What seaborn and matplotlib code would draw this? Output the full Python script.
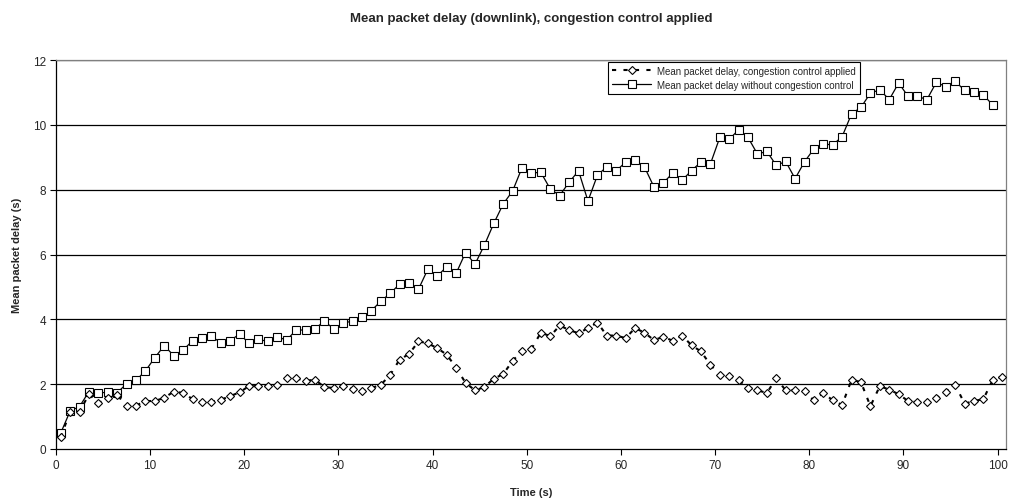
import numpy as np
import pandas as pd
import matplotlib
matplotlib.use("Agg")
import matplotlib.pyplot as plt
import seaborn as sns

title = "Mean packet delay (downlink), congestion control applied"
xlabel = "Time (s)"
ylabel = "Mean packet delay (s)"
label_cc = "Mean packet delay, congestion control applied"
label_nocc = "Mean packet delay without congestion control"

time_nocc = np.arange(100) + 0.5
time_cc = np.arange(101) + 0.5

delay_nocc = [
    0.49, 1.17, 1.31, 1.77, 1.73, 1.75, 1.73, 2.02, 2.12, 2.41, 2.82, 3.19, 2.88, 3.05, 3.34, 3.42, 3.48, 3.28, 3.34, 3.55, 3.26, 3.38, 3.32, 3.46, 3.36,
    3.67, 3.67, 3.71, 3.94, 3.71, 3.88, 3.95, 4.06, 4.27, 4.56, 4.80, 5.09, 5.11, 4.93, 5.55, 5.34, 5.62, 5.42, 6.06, 5.70, 6.29, 6.96, 7.56, 7.96, 8.68,
    8.52, 8.53, 8.02, 7.82, 8.23, 8.58, 7.65, 8.44, 8.71, 8.58, 8.85, 8.91, 8.70, 8.09, 8.21, 8.51, 8.29, 8.59, 8.85, 8.79, 9.61, 9.55, 9.85, 9.61, 9.10,
    9.18, 8.75, 8.87, 8.34, 8.86, 9.26, 9.41, 9.38, 9.64, 10.34, 10.54, 10.98, 11.08, 10.78, 11.29, 10.88, 10.88, 10.78, 11.31, 11.18, 11.35, 11.06, 11.02, 10.92, 10.61,
]

delay_cc = [
    0.36, 1.15, 1.15, 1.69, 1.42, 1.56, 1.67, 1.32, 1.34, 1.48, 1.48, 1.58, 1.77, 1.73, 1.54, 1.44, 1.46, 1.52, 1.63, 1.75, 1.94, 1.94, 1.94, 1.98, 2.20,
    2.18, 2.10, 2.14, 1.91, 1.88, 1.94, 1.85, 1.79, 1.88, 1.98, 2.29, 2.76, 2.93, 3.32, 3.26, 3.11, 2.91, 2.51, 2.04, 1.81, 1.91, 2.17, 2.31, 2.72, 3.03,
    3.09, 3.59, 3.48, 3.81, 3.67, 3.57, 3.73, 3.90, 3.50, 3.50, 3.42, 3.73, 3.59, 3.36, 3.46, 3.34, 3.50, 3.20, 3.01, 2.60, 2.27, 2.25, 2.12, 1.89, 1.81,
    1.73, 2.18, 1.81, 1.81, 1.79, 1.50, 1.73, 1.50, 1.36, 2.14, 2.06, 1.32, 1.94, 1.83, 1.69, 1.48, 1.44, 1.46, 1.56, 1.77, 1.98, 1.40, 1.48, 1.54, 2.14, 2.23,
]

x_ticks = [0, 10, 20, 30, 40, 50, 60, 70, 80, 90, 100]
y_ticks = [0, 2, 4, 6, 8, 10, 12]

sns.set_theme(style="white")
plt.rcParams["font.family"] = ["Liberation Sans", "DejaVu Sans"]

df_cc = pd.DataFrame({"time": time_cc, "delay": delay_cc})
df_nocc = pd.DataFrame({"time": time_nocc, "delay": delay_nocc})

fig = plt.figure(figsize=(10.13, 5.02), dpi=100)
ax = fig.add_axes([56 / 1013, 1 - 450 / 502, 950 / 1013, 389 / 502])

for y in y_ticks[1:]:
    ax.axhline(y, color="black", linewidth=0.9, zorder=0)

sns.lineplot(data=df_cc, x="time", y="delay", ax=ax, color="black",
             linewidth=1.5, linestyle=(0, (2.0, 3.5)), marker="D",
             markersize=4.2, markerfacecolor="white", markeredgecolor="black",
             markeredgewidth=0.8, label=label_cc, zorder=3)
sns.lineplot(data=df_nocc, x="time", y="delay", ax=ax, color="black",
             linewidth=0.9, marker="s", markersize=5.5,
             markerfacecolor="white", markeredgecolor="black",
             markeredgewidth=0.8, label=label_nocc, zorder=2)

ax.set_xlim(0, 100.9)
ax.set_ylim(0, 12)
ax.set_xticks(x_ticks)
ax.set_yticks(y_ticks)
ax.tick_params(axis="both", direction="out", length=4, width=0.8,
               labelsize=8.5, color="black", pad=3, bottom=True, left=True)

for side in ["left", "bottom"]:
    ax.spines[side].set_color("black")
    ax.spines[side].set_linewidth(0.9)
for side in ["top", "right"]:
    ax.spines[side].set_color("#808080")
    ax.spines[side].set_linewidth(0.9)

ax.set_title(title, fontsize=9.5, fontweight="bold", pad=28)
ax.set_xlabel(xlabel, fontsize=8, fontweight="bold", labelpad=12)
ax.set_ylabel(ylabel, fontsize=8, fontweight="bold", labelpad=8)

leg = ax.legend(loc="upper right", bbox_to_anchor=(0.846, 0.995),
                borderaxespad=0, fontsize=7, frameon=True, fancybox=False,
                edgecolor="black", framealpha=1, handlelength=4,
                borderpad=0.4, labelspacing=0.4, handletextpad=0.6)
leg.get_frame().set_linewidth(0.8)

fig.savefig("out.png", dpi=100)
